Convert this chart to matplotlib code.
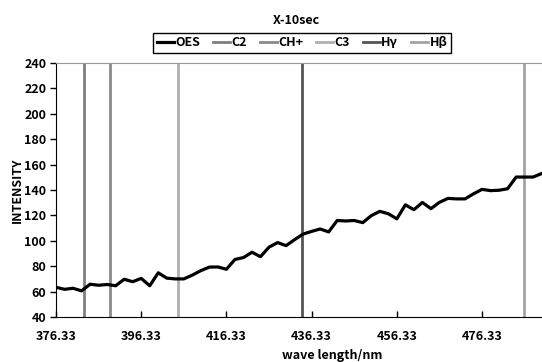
import matplotlib
matplotlib.use('Agg')
import matplotlib.pyplot as plt

plt.rcParams['font.family'] = ['Noto Sans CJK JP', 'DejaVu Sans']

# OES spectrum, one point every 2 nm
wave = [376.33, 378.33, 380.33, 382.33, 384.33, 386.33, 388.33, 390.33, 392.33, 394.33,
        396.33, 398.33, 400.33, 402.33, 404.33, 406.33, 408.33, 410.33, 412.33, 414.33,
        416.33, 418.33, 420.33, 422.33, 424.33, 426.33, 428.33, 430.33, 432.33, 434.33,
        436.33, 438.33, 440.33, 442.33, 444.33, 446.33, 448.33, 450.33, 452.33, 454.33,
        456.33, 458.33, 460.33, 462.33, 464.33, 466.33, 468.33, 470.33, 472.33, 474.33,
        476.33, 478.33, 480.33, 482.33, 484.33, 486.33, 488.33, 490.33]
intensity = [63.4, 61.8, 62.6, 60.6, 65.8, 65.0, 65.6, 64.6, 69.7, 67.8,
             70.4, 64.6, 74.8, 70.6, 70.0, 70.0, 73.0, 76.5, 79.3, 79.4,
             77.6, 85.3, 86.8, 91.0, 87.5, 95.0, 98.6, 96.2, 100.9, 105.3,
             107.4, 109.3, 107.0, 116.0, 115.6, 116.0, 114.3, 119.8, 123.2, 121.3,
             117.3, 128.3, 124.5, 130.2, 125.3, 130.3, 133.4, 133.0, 133.0, 137.0,
             140.5, 139.5, 139.8, 141.0, 150.2, 150.2, 150.2, 153.0]

# emission lines marked on the chart
line_names = ['C2', 'CH+', 'C3', 'Hγ', 'Hβ']
line_waves = [383.0, 388.9, 405.0, 434.0, 486.1]
line_colors = ['#7f7f7f', '#8a8a8a', '#b0b0b0', '#555555', '#a3a3a3']

y_min, y_max = 40, 240
x_ticks = [376.33, 396.33, 416.33, 436.33, 456.33, 476.33]

fig = plt.figure(figsize=(5.42, 3.62), dpi=100)
ax = fig.add_axes([56 / 542, 1 - 317 / 362, 1 - 56 / 542, (317 - 63) / 362])

ax.plot(wave, intensity, color='black', lw=2.3, label='OES',
        solid_joinstyle='round', zorder=3)
for name, w, c in zip(line_names, line_waves, line_colors):
    ax.plot([w, w], [y_min, y_max], color=c, lw=2.0, label=name, zorder=2)

ax.set_xlim(376.33, 490.4)
ax.set_ylim(y_min, y_max)
ax.set_yticks(range(y_min, y_max + 1, 20))
ax.set_xticks(x_ticks)
ax.set_xticklabels(['%.2f' % t for t in x_ticks])

ax.tick_params(axis='y', direction='out', length=4, width=1, pad=3,
               labelsize=9)
ax.tick_params(axis='x', direction='in', length=4, width=1, pad=9,
               labelsize=9)
for lab in ax.get_xticklabels() + ax.get_yticklabels():
    lab.set_fontweight('bold')

ax.spines['right'].set_visible(False)
ax.spines['top'].set_color('#999999')
ax.spines['left'].set_color('black')
ax.spines['bottom'].set_color('black')

fig.text(296 / 542, 1 - 20 / 362, 'X-10sec', ha='center', va='center',
         fontsize=9, fontweight='bold')
fig.text(332 / 542, 1 - 355 / 362, 'wave length/nm', ha='center', va='center',
         fontsize=9, fontweight='bold')
fig.text(17 / 542, 1 - 190 / 362, 'INTENSITY', ha='center', va='center',
         rotation=90, fontsize=9, fontweight='bold')

leg = fig.legend(loc='center', bbox_to_anchor=(302 / 542, 1 - 43 / 362), ncol=6,
                 fontsize=9, handlelength=1.4, handletextpad=0.1,
                 columnspacing=1.0, borderpad=0.3, fancybox=False,
                 framealpha=1, edgecolor='black')
leg.get_frame().set_linewidth(1.0)
for t in leg.get_texts():
    t.set_fontweight('bold')

fig.savefig('out.png', dpi=100)
